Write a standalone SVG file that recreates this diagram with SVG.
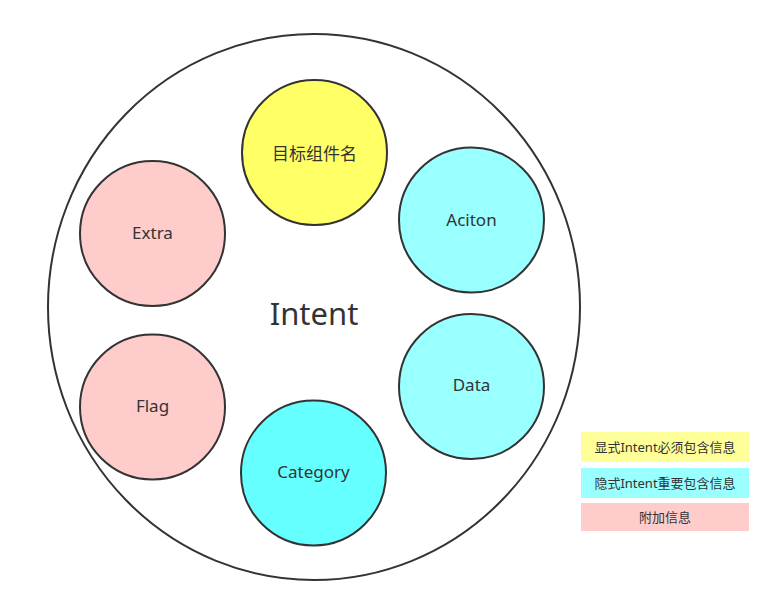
<svg xmlns="http://www.w3.org/2000/svg" width="782" height="612" viewBox="0 0 782 612">
<style>
.n{stroke:#333;stroke-width:2}
.t{font-family:"Noto Sans","Noto Sans CJK SC",sans-serif;font-size:17px;fill:#333;text-anchor:middle;dominant-baseline:central}
.l{font-family:"Noto Sans","Noto Sans CJK SC",sans-serif;font-size:13px;fill:#333;text-anchor:middle;dominant-baseline:central}
</style>
<rect width="782" height="612" fill="#fff"/>
<g id="intent">
<ellipse cx="314" cy="307" rx="266" ry="273" fill="#fff" class="n"/>
<text x="314" y="312.5" class="t" style="font-size:31px">Intent</text>
</g>
<g id="target"><circle cx="314.5" cy="152.5" r="72.5" fill="#FFFF66" class="n"/><text x="314.5" y="153" class="t">目标组件名</text></g>
<g id="action"><circle cx="471.5" cy="220" r="72.5" fill="#99FFFF" class="n"/><text x="471.5" y="219.5" class="t">Aciton</text></g>
<g id="data"><circle cx="471.5" cy="386.5" r="72.5" fill="#99FFFF" class="n"/><text x="471.5" y="384.5" class="t">Data</text></g>
<g id="category"><circle cx="313.5" cy="473" r="72.5" fill="#66FFFF" class="n"/><text x="313.5" y="471.5" class="t">Category</text></g>
<g id="extra"><circle cx="152.5" cy="233.5" r="72.5" fill="#FFCCCC" class="n"/><text x="152.5" y="232.5" class="t">Extra</text></g>
<g id="flag"><circle cx="152.5" cy="407" r="72.5" fill="#FFCCCC" class="n"/><text x="152.5" y="405.5" class="t">Flag</text></g>
<g id="legend-explicit"><rect x="581" y="432" width="168" height="30" fill="#FFFF99"/><text x="665" y="446.5" class="l">显式Intent必须包含信息</text></g>
<g id="legend-implicit"><rect x="581" y="468" width="168" height="30" fill="#99FFFF"/><text x="665" y="482.5" class="l">隐式Intent重要包含信息</text></g>
<g id="legend-extra"><rect x="581" y="503" width="168" height="28" fill="#FFCCCC"/><text x="665" y="516.5" class="l">附加信息</text></g>
<g id="connectors"></g>
</svg>
